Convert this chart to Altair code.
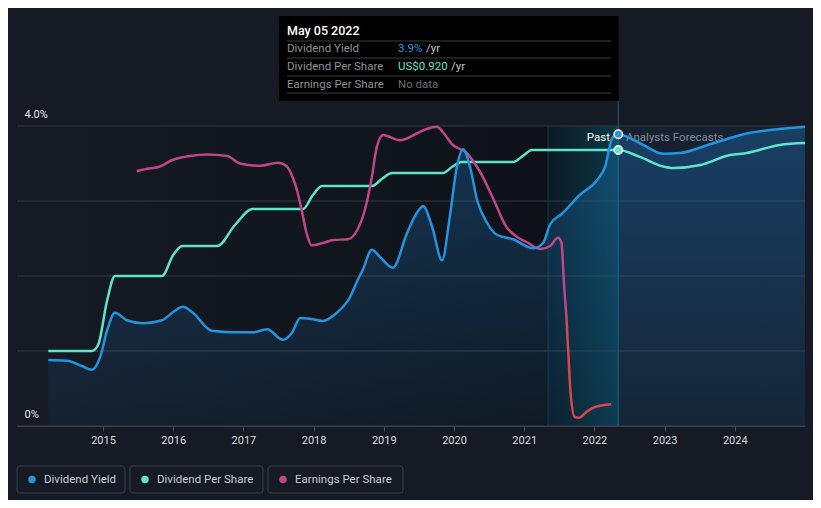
import altair as alt
import pandas as pd

# ---------------- data (decimal years) ----------------
yield_t = [2014.22, 2014.49, 2014.70, 2014.84, 2014.96, 2015.06, 2015.17, 2015.34, 2015.57, 2015.84,
           2016.00, 2016.14, 2016.28, 2016.55, 2016.85, 2017.14, 2017.34, 2017.56, 2017.69, 2017.81,
           2017.95, 2018.13, 2018.33, 2018.52, 2018.63, 2018.70, 2018.83, 2018.95, 2019.13, 2019.33,
           2019.47, 2019.56, 2019.69, 2019.83, 2019.94, 2020.04, 2020.13, 2020.23, 2020.33, 2020.47,
           2020.61, 2020.84, 2021.13, 2021.27, 2021.37, 2021.55, 2021.79, 2022.04, 2022.15, 2022.26,
           2022.34, 2022.65, 2022.98, 2023.22, 2023.69, 2024.17, 2024.64, 2025.00]
yield_v = [0.88, 0.87, 0.80, 0.75, 0.92, 1.28, 1.51, 1.41, 1.37, 1.41,
           1.52, 1.59, 1.51, 1.27, 1.25, 1.25, 1.29, 1.15, 1.24, 1.44,
           1.43, 1.40, 1.51, 1.72, 1.95, 2.08, 2.35, 2.25, 2.11, 2.57,
           2.84, 2.93, 2.65, 2.21, 2.79, 3.45, 3.69, 3.45, 3.01, 2.71,
           2.55, 2.49, 2.37, 2.44, 2.69, 2.84, 3.08, 3.28, 3.45, 3.85,
           3.89, 3.77, 3.63, 3.64, 3.77, 3.90, 3.96, 3.99]

dps_t = [2014.22, 2014.84, 2014.93, 2015.06, 2015.17, 2015.84, 2016.00, 2016.13, 2016.63, 2016.88,
         2017.13, 2017.85, 2017.99, 2018.12, 2018.83, 2018.98, 2019.12, 2019.84, 2019.98, 2020.11,
         2020.84, 2020.98, 2021.11, 2022.34, 2022.65, 2022.98, 2023.12, 2023.51, 2023.93, 2024.17,
         2024.64, 2025.00]
dps_v = [0.25, 0.25, 0.27, 0.42, 0.50, 0.50, 0.57, 0.60, 0.60, 0.67,
         0.723, 0.723, 0.77, 0.80, 0.80, 0.825, 0.843, 0.843, 0.865, 0.88,
         0.88, 0.90, 0.92, 0.92, 0.897, 0.865, 0.86, 0.87, 0.903, 0.91,
         0.937, 0.943]

eps_pos_t = [2015.48, 2015.63, 2015.78, 2016.00, 2016.24, 2016.48, 2016.77, 2016.95, 2017.24, 2017.49,
             2017.62, 2017.70, 2017.77, 2017.83, 2017.90, 2017.97, 2018.13, 2018.28, 2018.49, 2018.62,
             2018.73, 2018.83, 2018.90, 2018.99, 2019.23, 2019.47, 2019.61, 2019.76, 2019.84, 2019.98,
             2020.18, 2020.37, 2020.55, 2020.75, 2020.90, 2021.04, 2021.23, 2021.37, 2021.48, 2021.53,
             2021.57, 2021.60]
eps_pos_v = [3.40, 3.43, 3.45, 3.55, 3.60, 3.62, 3.60, 3.50, 3.47, 3.51,
             3.46, 3.32, 3.12, 2.88, 2.57, 2.41, 2.44, 2.48, 2.49, 2.61,
             2.88, 3.32, 3.72, 3.88, 3.81, 3.90, 3.96, 3.99, 3.92, 3.75,
             3.64, 3.39, 3.05, 2.65, 2.52, 2.45, 2.36, 2.40, 2.51, 2.45,
             1.85, 1.48]
eps_neg_t = [2021.60, 2021.63, 2021.66, 2021.72, 2021.78, 2021.89, 2022.00, 2022.24]
eps_neg_v = [1.48, 0.95, 0.45, 0.12, 0.11, 0.19, 0.25, 0.29]

grid_vals = [0, 1, 2, 3, 4]
data_start, band_start, forecast_start, x_end = 2014.22, 2021.34, 2022.34, 2025.0
x_min = 2013.775

BG = "#151a24"
BLUE = "#2394df"
TEAL = "#5ee4cc"
PINK = "#c0468a"
RED = "#d8474f"
FONT = "Roboto"
W, H = 788, 300

# ---------------- helpers ----------------
xs = alt.Scale(domain=[x_min, x_end], nice=False, zero=False)
xaxis = alt.Axis(values=list(range(2015, 2025)), format="d", grid=False,
                 domainColor="#4a505a", tickColor="#4a505a", tickSize=5,
                 labelColor="#dcdcdc", labelFontSize=11, labelFont=FONT,
                 labelPadding=3, title=None, labelFlush=False)
def X(f="t"):
    return alt.X(f"{f}:Q", scale=xs, axis=xaxis)

pct = alt.Scale(domain=[0, 4], nice=False, zero=True)
usd = alt.Scale(domain=[0, 1.0], nice=False, zero=True)

one = pd.DataFrame({"a": [0]})

def vgrad(c0, c1, horizontal=False):
    if horizontal:
        return alt.Gradient(gradient="linear", x1=0, x2=1, y1=0, y2=0,
                            stops=[alt.GradientStop(color=c0, offset=0), alt.GradientStop(color=c1, offset=1)])
    return alt.Gradient(gradient="linear", x1=0, x2=0, y1=0, y2=1,
                        stops=[alt.GradientStop(color=c0, offset=0), alt.GradientStop(color=c1, offset=1)])

regions = pd.DataFrame({"t": [data_start, band_start, forecast_start],
                        "t2": [band_start, forecast_start, x_end],
                        "k": ["past", "band", "fc"]})

bg_past = alt.Chart(regions[regions.k == "past"]).mark_rect(
    fill=vgrad("#151a23", "#0e1218", horizontal=True)).encode(
    x=X(), x2="t2:Q", y=alt.value(0), y2=alt.value(H))
bg_band = alt.Chart(regions[regions.k == "band"]).mark_rect(
    fill=vgrad("#0a1a22", "#0c3748", horizontal=True)).encode(
    x=X(), x2="t2:Q", y=alt.value(0), y2=alt.value(H))
bg_fc = alt.Chart(regions[regions.k == "fc"]).mark_rect(
    fill=vgrad("#152131", "#151f2c")).encode(
    x=X(), x2="t2:Q", y=alt.value(0), y2=alt.value(H))

grid = alt.Chart(pd.DataFrame({"g": grid_vals})).mark_rule(color="#323842", strokeWidth=1).encode(
    y=alt.Y("g:Q", scale=pct,
            axis=alt.Axis(values=grid_vals, grid=False, domain=False, ticks=False,
                          labelExpr="datum.value == 4 ? '4.0%' : (datum.value == 0 ? '0%' : '')",
                          labelAlign="left", labelBaseline="bottom", labelPadding=-7,
                          labelOffset=-7, labelColor="#e6e6e6", labelFontSize=11,
                          labelFont=FONT, title=None)),
    x=alt.value(0), x2=alt.value(W))

vl = pd.DataFrame({"t": [band_start]})
vline1 = alt.Chart(vl).mark_rule(color="#173944", strokeWidth=1).encode(
    x=X(), y=alt.value(0), y2=alt.value(H))
vf = pd.DataFrame({"t": [forecast_start]})
vline2 = alt.Chart(vf).mark_rule(color="#1b5f76", strokeWidth=1).encode(
    x=X(), y=alt.value(-25), y2=alt.value(H))

ydf = pd.DataFrame({"t": yield_t, "v": yield_v})
area = alt.Chart(ydf).mark_area(
    interpolate="monotone",
    fill=vgrad("rgba(33,140,230,0.28)", "rgba(33,140,230,0.06)")).encode(
    x=X(), y=alt.Y("v:Q", scale=pct, axis=None), y2=alt.datum(0))

past_txt = alt.Chart(one).mark_text(text="Past", align="right", baseline="middle",
                                    font=FONT, fontSize=11.5, color="#ffffff").encode(
    x=alt.value(593), y=alt.value(12))
fc_txt = alt.Chart(one).mark_text(text="Analysts Forecasts", align="left", baseline="middle",
                                  font=FONT, fontSize=11.5, color="#868c95").encode(
    x=alt.value(609), y=alt.value(12))

ddf = pd.DataFrame({"t": dps_t, "v": dps_v})
dps_line = alt.Chart(ddf).mark_line(interpolate="monotone", color=TEAL, strokeWidth=2.5).encode(
    x=X(), y=alt.Y("v:Q", scale=usd, axis=None))

epos = pd.DataFrame({"t": eps_pos_t, "v": eps_pos_v})
eneg = pd.DataFrame({"t": eps_neg_t, "v": eps_neg_v})
eps_line1 = alt.Chart(epos).mark_line(interpolate="monotone", color=PINK, strokeWidth=2.5).encode(
    x=X(), y=alt.Y("v:Q", scale=pct, axis=None))
eps_line2 = alt.Chart(eneg).mark_line(interpolate="monotone", color=RED, strokeWidth=2.5).encode(
    x=X(), y=alt.Y("v:Q", scale=pct, axis=None))

yield_line = alt.Chart(ydf).mark_line(interpolate="monotone", color=BLUE, strokeWidth=2.5).encode(
    x=X(), y=alt.Y("v:Q", scale=pct, axis=None))

ypt = pd.DataFrame({"t": [forecast_start], "v": [3.89]})
dpt = pd.DataFrame({"t": [forecast_start], "v": [0.92]})
ypoint = alt.Chart(ypt).mark_point(filled=True, size=70, fill=BLUE, stroke="#ffffff",
                                   strokeWidth=1.5, opacity=1).encode(
    x=X(), y=alt.Y("v:Q", scale=pct, axis=None))
dpoint = alt.Chart(dpt).mark_point(filled=True, size=70, fill=TEAL, stroke="#ffffff",
                                   strokeWidth=1.5, opacity=1).encode(
    x=X(), y=alt.Y("v:Q", scale=usd, axis=None))

# ---------------- tooltip box ----------------
tip_box = alt.Chart(one).mark_rect(fill="#000000").encode(
    x=alt.value(262), x2=alt.value(602), y=alt.value(-110), y2=alt.value(-25))
sep = alt.Chart(pd.DataFrame({"yy": [-85, -68, -50, -33]})).mark_rule(color="#3c3c3c").encode(
    x=alt.value(270), x2=alt.value(594), y=alt.Y("yy:Q", scale=None))

def txt(s, x, y, color, size=11.5, weight="normal"):
    return alt.Chart(one).mark_text(text=s, align="left", baseline="middle", font=FONT,
                                    fontSize=size, color=color, fontWeight=weight).encode(
        x=alt.value(x), y=alt.value(y))

tip_texts = [
    txt("May 05 2022", 270, -95, "#ffffff", 12.5, 500),
    txt("Dividend Yield", 270, -77, "#8e9197"),
    txt("Dividend Per Share", 270, -59, "#8e9197"),
    txt("Earnings Per Share", 270, -41, "#8e9197"),
    txt("3.9%", 381, -77, BLUE),
    txt("/yr", 409, -77, "#c8c8c8"),
    txt("US$0.920", 381, -59, TEAL),
    txt("/yr", 434, -59, "#c8c8c8"),
    txt("No data", 381, -41, "#6a6d72"),
]

# ---------------- legend ----------------
leg_items = ["Dividend Yield", "Dividend Per Share", "Earnings Per Share"]
leg_colors = [BLUE, TEAL, PINK]
boxes = [(0, 108), (113, 246), (251, 386)]
legend_layers = []
for (x0, x1), name, col in zip(boxes, leg_items, leg_colors):
    legend_layers.append(alt.Chart(one).mark_rect(fill=BG, stroke="#3a404c", strokeWidth=1,
                                                  cornerRadius=3).encode(
        x=alt.value(x0), x2=alt.value(x1), y=alt.value(340), y2=alt.value(367)))
    legend_layers.append(alt.Chart(one).mark_circle(size=55, color=col, opacity=1).encode(
        x=alt.value(x0 + 15), y=alt.value(353.5)))
    legend_layers.append(txt(name, x0 + 27, 353.5, "#c9ccd1", 11.5))

chart = alt.layer(
    bg_past, bg_band, bg_fc, grid, vline1, vline2, area, past_txt, fc_txt,
    dps_line, eps_line1, eps_line2, yield_line, ypoint, dpoint,
    tip_box, sep, *tip_texts, *legend_layers
).resolve_scale(y="independent").properties(
    width=W, height=H,
    autosize=alt.AutoSizeParams(type="none"),
    padding={"left": 9, "top": 118, "right": 8, "bottom": 74},
    background=BG,
).configure_view(stroke=None)

chart.save("out.html", embed_options={"renderer": "svg", "actions": False})
